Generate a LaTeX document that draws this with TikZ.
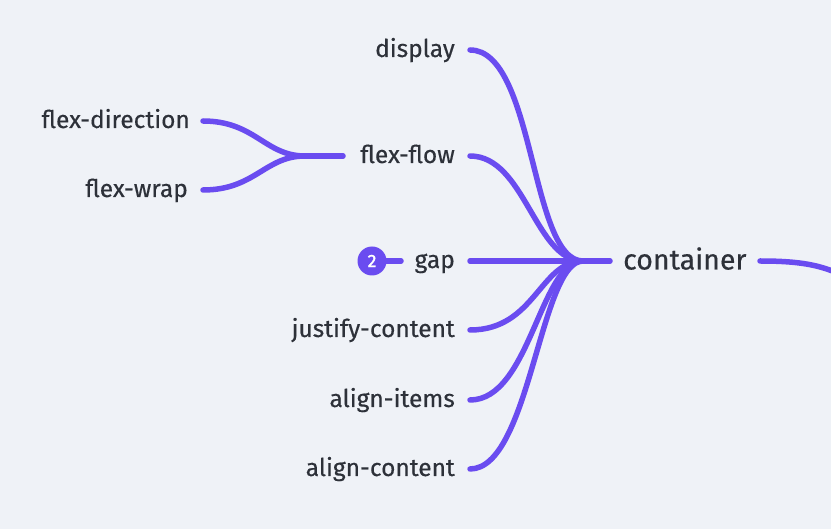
\documentclass[tikz,border=0pt]{standalone}
\usepackage{fontspec}
\setmainfont{Fira Sans}[FakeBold=0.4]
\newfontfamily\badgefont{Fira Sans}[FakeBold=1.5]
\definecolor{bgc}{HTML}{EFF2F7}
\definecolor{linec}{HTML}{6A4CF0}
\definecolor{txtc}{HTML}{2D3139}
\begin{document}
\begin{tikzpicture}[x=1pt,y=-1pt,
  lbl/.style={anchor=base east,inner sep=0pt,text=txtc,font=\fontsize{24.5}{28}\selectfont},
  conn/.style={draw=linec,line width=5.5pt,line cap=round}]
\fill[bgc] (0,0) rectangle (831,529);
\useasboundingbox (0,0) rectangle (831,529);
% nodes
\node[lbl] (display) at (455,57) {display};
\node[lbl] (flow) at (455,163) {flex-flow};
\node[lbl] (gap) at (455,268) {gap};
\node[lbl] (justify) at (455,337) {justify-content};
\node[lbl] (items) at (455,407) {align-items};
\node[lbl] (acontent) at (455,476) {align-content};
\node[lbl] (dir) at (190,128) {flex-direction};
\node[lbl] (wrap) at (188,197) {flex-wrap};
\node[anchor=base west,inner sep=0pt,text=txtc,font=\fontsize{28.5}{32}\selectfont] (cont) at (623,269.5) {container};
\node[circle,fill=linec,minimum size=29pt,inner sep=0pt,text=white,font=\badgefont\fontsize{18}{20}\selectfont] (badge) at (372,261) {2};
\coordinate (J) at (583,261);
\coordinate (J2) at (305,156);
\coordinate (out) at (835,272);
% connectors
\draw[conn] (470,50) .. controls (535,50) and (530,261) .. (J);
\draw[conn] (470,156) .. controls (525,156) and (535,261) .. (J);
\draw[conn] (470,261) -- (J);
\draw[conn] (470,330) .. controls (535,330) and (540,261) .. (J);
\draw[conn] (470,400) .. controls (530,400) and (540,261) .. (J);
\draw[conn] (470,469) .. controls (530,469) and (540,261) .. (J);
\draw[conn] (J) -- (610,261);
\draw[conn] (760,261) .. controls (795,261) and (815,264) .. (out);
\draw[conn] (203,121) .. controls (255,121) and (265,156) .. (J2);
\draw[conn] (203,190) .. controls (255,190) and (265,156) .. (J2);
\draw[conn] (J2) -- (343,156);
\draw[conn] (badge.east) -- (401,261);
\end{tikzpicture}
\end{document}
